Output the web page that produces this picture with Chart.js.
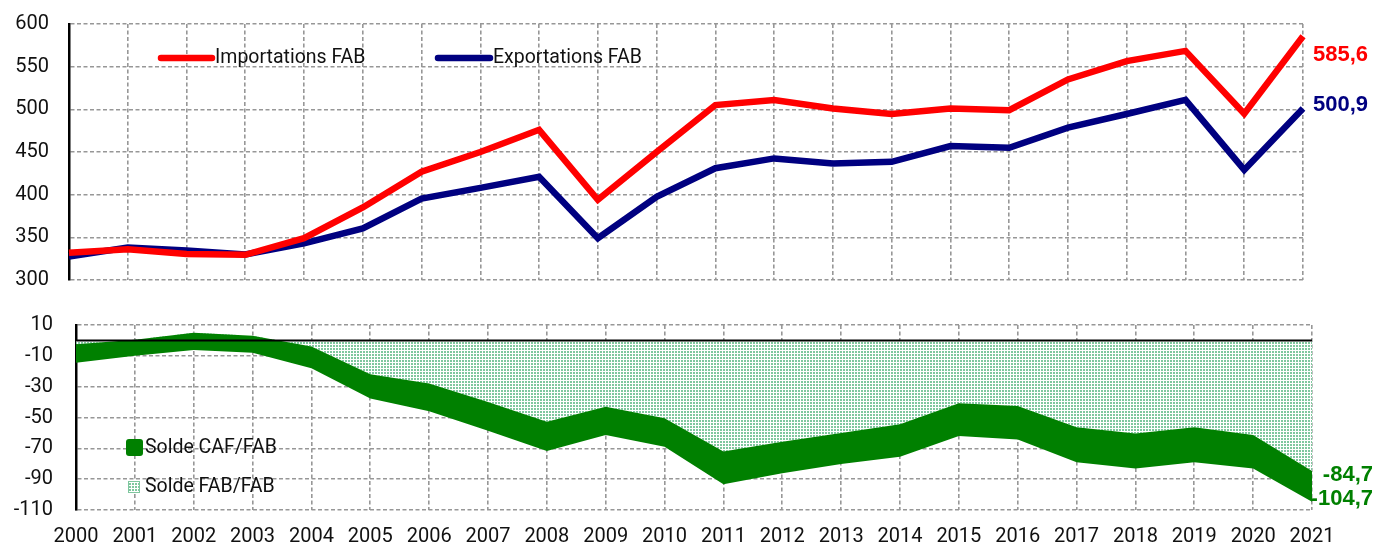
<!DOCTYPE html>
<html>
<head>
<meta charset="utf-8">
<script src="https://cdn.jsdelivr.net/npm/chart.js@4/dist/chart.umd.min.js"></script>
<style>
  html, body { margin: 0; padding: 0; background: #ffffff; }
  #wrap { position: relative; width: 1376px; height: 544px; overflow: hidden; }
  #top { position: absolute; left: 0; top: 0; }
  #bot { position: absolute; left: 0; top: 300px; }
</style>
</head>
<body>
<div id="wrap">
  <canvas id="top" width="1376" height="300"></canvas>
  <canvas id="bot" width="1376" height="244"></canvas>
</div>
<script>
// ---- Data ----
const years = ['2000','2001','2002','2003','2004','2005','2006','2007','2008','2009','2010',
               '2011','2012','2013','2014','2015','2016','2017','2018','2019','2020','2021'];
const importsFAB = [332, 336, 330.5, 329.5, 349, 385, 427, 450, 476, 394, 450,
                    505, 511, 501, 494.5, 501, 499, 535, 556.5, 568.5, 495, 585.6];
const exportsFAB = [327.5, 338, 334.5, 330, 343, 360.5, 395.5, 408, 421, 349, 397.5,
                    431, 442.5, 436.5, 438.5, 457, 455, 478.5, 494.5, 511, 429, 500.9];
const soldeFABFAB = [-2.5, 0.5, 5, 3, -4, -22, -28, -40, -52.7, -43, -50.5,
                     -72, -65.7, -60, -54.4, -40.8, -42.5, -56.4, -60.3, -56.4, -61.4, -84.7];
const soldeCAFFAB = [-14.5, -10, -6.2, -8, -18, -37.6, -46, -58.6, -71.7, -61.4, -69,
                     -93.3, -86.2, -80.2, -75.4, -62, -64.2, -79, -83, -79, -83, -104.7];
const topTicks = { min: 300, max: 600, step: 50 };
const botTicks = { min: -110, max: 10, step: 20 };

// ---- Styles ----
const FONT = 'Roboto, "Liberation Sans", Arial, sans-serif';
const BOLD = '"Liberation Sans", Arial, sans-serif';
const RED = '#ff0000', NAVY = '#000080', GREEN = '#008000';
const GRID = '#979797';
const fmt = v => v.toFixed(1).replace('.', ',');

function makePattern() {
  const c = document.createElement('canvas');
  c.width = 3; c.height = 3;
  const g = c.getContext('2d');
  g.fillStyle = '#ffffff'; g.fillRect(0, 0, 3, 3);
  g.fillStyle = '#7fc79f'; g.fillRect(0, 0, 2, 2);
  return g.createPattern(c, 'repeat');
}
const dotPattern = makePattern();

const dash = [4, 2.5];
function gridOpts(tickLen) {
  return { color: GRID, lineWidth: 1.6, drawTicks: tickLen > 0, tickLength: tickLen,
           tickColor: 'rgba(0,0,0,0)' };
}

// ---- Top chart plugin: legend + end labels ----
const topDecor = {
  id: 'topDecor',
  afterDatasetsDraw(chart) {
    const ctx = chart.ctx, ys = chart.scales.y;
    const area = chart.chartArea;
    const ds = chart.data.datasets;
    const legendItems = [
      { ds: ds[0], x0: 161, x1: 212, y: 58 },
      { ds: ds[1], x0: 438, x1: 490, y: 58 }
    ];
    ctx.save();
    legendItems.forEach(it => {
      ctx.strokeStyle = it.ds.borderColor;
      ctx.lineWidth = 6.5;
      ctx.lineCap = 'round';
      ctx.beginPath(); ctx.moveTo(it.x0, it.y); ctx.lineTo(it.x1, it.y); ctx.stroke();
      ctx.fillStyle = '#111';
      ctx.font = '19.5px ' + FONT;
      ctx.textAlign = 'left'; ctx.textBaseline = 'middle';
      ctx.fillText(it.ds.label, it.x1 + 3, it.y);
    });
    const last = years.length - 1;
    ctx.font = 'bold 22px ' + BOLD;
    ctx.textAlign = 'left'; ctx.textBaseline = 'middle';
    ctx.fillStyle = RED;
    ctx.fillText(fmt(importsFAB[last]), area.right + 10, ys.getPixelForValue(importsFAB[last]) + 19);
    ctx.fillStyle = NAVY;
    ctx.fillText(fmt(exportsFAB[last]), area.right + 10, ys.getPixelForValue(exportsFAB[last]) - 4);
    ctx.restore();
  }
};

new Chart(document.getElementById('top'), {
  type: 'line',
  data: {
    labels: years,
    datasets: [
      { label: 'Importations FAB', data: importsFAB, borderColor: RED, backgroundColor: RED,
        borderWidth: 6.5, pointRadius: 0, tension: 0, fill: false },
      { label: 'Exportations FAB', data: exportsFAB, borderColor: NAVY, backgroundColor: NAVY,
        borderWidth: 6.5, pointRadius: 0, tension: 0, fill: false }
    ]
  },
  options: {
    responsive: false, animation: false, devicePixelRatio: 1,
    layout: { padding: { top: 24, right: 73, bottom: 20, left: 0 } },
    plugins: { legend: { display: false }, tooltip: { enabled: false } },
    scales: {
      x: {
        type: 'category', offset: false,
        grid: gridOpts(0),
        border: { display: false, dash: dash },
        ticks: { display: false },
        afterFit: s => { s.height = 0; }
      },
      y: {
        min: topTicks.min, max: topTicks.max,
        ticks: { stepSize: topTicks.step, padding: 0, color: '#111', font: { family: FONT, size: 20 } },
        grid: gridOpts(20),
        border: { display: true, color: '#000', width: 2.5, dash: dash },
        afterFit: s => { s.width = 69; }
      }
    }
  },
  plugins: [topDecor]
});

// ---- Bottom chart plugin ----
const botDecor = {
  id: 'botDecor',
  afterDatasetsDraw(chart) {
    const ctx = chart.ctx, ys = chart.scales.y, area = chart.chartArea;
    ctx.save();
    const y0 = ys.getPixelForValue(0);
    ctx.strokeStyle = '#000'; ctx.lineWidth = 2;
    ctx.beginPath(); ctx.moveTo(area.left, y0); ctx.lineTo(area.right, y0); ctx.stroke();
    const ds = chart.data.datasets;
    ctx.font = '19.5px ' + FONT;
    ctx.textAlign = 'left'; ctx.textBaseline = 'middle';
    ctx.fillStyle = GREEN;
    ctx.beginPath();
    if (ctx.roundRect) ctx.roundRect(126, 139, 17, 17, 3); else ctx.rect(126, 139, 17, 17);
    ctx.fill();
    ctx.fillStyle = '#111';
    ctx.fillText(ds[1].label, 145, 148);
    ctx.fillStyle = dotPattern;
    ctx.fillRect(128, 181, 12, 12);
    ctx.strokeStyle = '#7fc79f'; ctx.lineWidth = 1;
    ctx.strokeRect(128.5, 181.5, 11, 11);
    ctx.fillStyle = '#111';
    ctx.fillText(ds[0].label, 145, 187);
    const last = years.length - 1;
    ctx.font = 'bold 22px ' + BOLD;
    ctx.textAlign = 'right';
    ctx.fillStyle = GREEN;
    ctx.fillText(fmt(soldeFABFAB[last]), 1373, ys.getPixelForValue(soldeFABFAB[last]) + 4);
    ctx.fillText(fmt(soldeCAFFAB[last]), 1373, ys.getPixelForValue(soldeCAFFAB[last]) - 3);
    ctx.restore();
  }
};

new Chart(document.getElementById('bot'), {
  type: 'line',
  data: {
    labels: years,
    datasets: [
      { label: 'Solde FAB/FAB', data: soldeFABFAB, borderWidth: 0, borderColor: 'rgba(0,0,0,0)',
        backgroundColor: dotPattern, pointRadius: 0, tension: 0, fill: 'origin', order: 2 },
      { label: 'Solde CAF/FAB', data: soldeCAFFAB, borderWidth: 0, borderColor: 'rgba(0,0,0,0)',
        backgroundColor: GREEN, pointRadius: 0, tension: 0, fill: '-1', order: 1 }
    ]
  },
  options: {
    responsive: false, animation: false, devicePixelRatio: 1,
    layout: { padding: { top: 25, right: 64, bottom: 0, left: 0 } },
    plugins: { legend: { display: false }, tooltip: { enabled: false } },
    scales: {
      x: {
        type: 'category', offset: false,
        grid: gridOpts(0),
        border: { display: false, dash: dash },
        ticks: { padding: 15, color: '#111', maxRotation: 0, autoSkip: false,
                 font: { family: FONT, size: 20 } },
        afterFit: s => { s.height = 34; }
      },
      y: {
        min: botTicks.min, max: botTicks.max,
        ticks: { stepSize: botTicks.step, padding: 0, color: '#111', font: { family: FONT, size: 20 } },
        grid: gridOpts(23),
        border: { display: true, color: '#000', width: 2.5, dash: dash },
        afterFit: s => { s.width = 76; }
      }
    }
  },
  plugins: [botDecor]
});
</script>
</body>
</html>
